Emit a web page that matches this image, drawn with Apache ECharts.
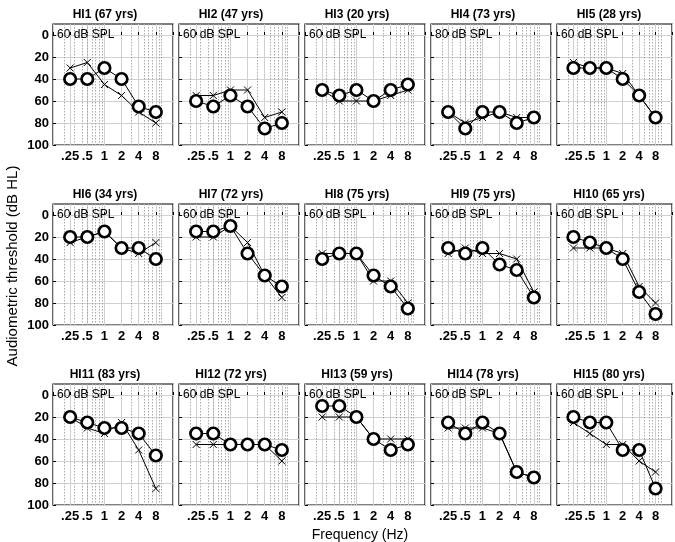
<!DOCTYPE html>
<html>
<head>
<meta charset="utf-8">
<script src="https://cdn.jsdelivr.net/npm/echarts@6/dist/echarts.min.js"></script>
<style>
html,body{margin:0;padding:0;background:#fff;}
#chart{width:675px;height:542px;}
</style>
</head>
<body>
<div id="chart"></div>
<script>
// ---- data ----
const freqs = [0.25, 0.5, 1, 2, 4, 8];
const freqLabels = ['.25', '.5', '1', '2', '4', '8'];
const yTicks = [0, 20, 40, 60, 80, 100];
const minorFreqs = [0.2, 0.3, 0.4, 0.5, 0.6, 0.7, 0.8, 0.9, 3, 5, 6, 7, 9, 10];
const panelIds = ['HI1','HI2','HI3','HI4','HI5','HI6','HI7','HI8','HI9','HI10','HI11','HI12','HI13','HI14','HI15'];
const ages = [67, 47, 20, 73, 28, 34, 72, 75, 75, 65, 83, 72, 59, 78, 80];
const splLevels = [60, 60, 60, 80, 60, 60, 60, 60, 60, 60, 60, 60, 60, 60, 60];
// open-circle thresholds (dB HL)
const circles = [
  [40, 40, 30, 40, 65, 70],
  [60, 65, 55, 65, 85, 80],
  [50, 55, 50, 60, 50, 45],
  [70, 85, 70, 70, 80, 75],
  [30, 30, 30, 40, 55, 75],
  [20, 20, 15, 30, 30, 40],
  [15, 15, 10, 35, 55, 65],
  [40, 35, 35, 55, 65, 85],
  [30, 35, 30, 45, 50, 75],
  [20, 25, 30, 40, 70, 90],
  [20, 25, 30, 30, 35, 55],
  [35, 35, 45, 45, 45, 50],
  [10, 10, 20, 40, 50, 45],
  [25, 35, 25, 35, 70, 75],
  [20, 25, 25, 50, 50, 85]
];
// cross thresholds (dB HL)
const crosses = [
  [30, 25, 45, 55, 70, 80],
  [55, 55, 50, 50, 75, 70],
  [50, 60, 60, 60, 55, 50],
  [70, 80, 75, 70, 75, 75],
  [25, 30, 30, 35, 55, 75],
  [25, 20, 15, 30, 35, 25],
  [20, 20, 10, 25, 55, 75],
  [35, 35, 35, 60, 60, 80],
  [35, 30, 35, 35, 40, 70],
  [30, 30, 30, 35, 65, 80],
  [20, 30, 35, 25, 50, 85],
  [45, 45, 45, 45, 45, 60],
  [20, 20, 20, 40, 40, 40],
  [30, 30, 30, 35, 70, 75],
  [25, 35, 45, 45, 60, 70]
];

// ---- layout ----
const colLeft = [53, 179, 305, 431, 557];
const rowTop = [24, 204, 384];
const panelW = 120, panelH = 121;
const FONT = 'Liberation Sans';

function freqLabel(v) {
  for (let k = 0; k < freqs.length; k++) {
    if (Math.abs(v - freqs[k]) < freqs[k] * 1e-6) return freqLabels[k];
  }
  return '';
}

const grids = [], xAxes = [], yAxes = [], series = [], graphics = [];
for (let i = 0; i < panelIds.length; i++) {
  const c = i % 5, r = Math.floor(i / 5);
  const left = colLeft[c], top = rowTop[r];
  grids.push({left: left, top: top, width: panelW, height: panelH, show: true,
    borderColor: '#000', borderWidth: 1.2, backgroundColor: 'transparent', containLabel: false});
  xAxes.push({type: 'log', logBase: 2, min: 0.125, max: 16, gridIndex: i,
    axisLine: {show: false},
    axisTick: {show: true, inside: true, length: 3, lineStyle: {color: '#000'}},
    splitLine: {show: true, lineStyle: {color: '#d0d0d0', width: 1}},
    axisLabel: {formatter: freqLabel, color: '#000', fontWeight: 'bold', fontSize: 13,
      fontFamily: FONT, margin: 5}
  });
  yAxes.push({type: 'value', inverse: true, min: -10, max: 100, gridIndex: i,
    axisLine: {show: false},
    axisTick: {show: true, inside: true, length: 3, customValues: yTicks, lineStyle: {color: '#000'}},
    splitLine: {show: true, lineStyle: {color: '#d0d0d0', width: 1}},
    axisLabel: {show: c === 0, customValues: yTicks, color: '#000', fontWeight: 'bold',
      fontSize: 13, fontFamily: FONT, margin: 4,
      formatter: v => (v >= 0 ? String(v) : '')}
  });
  series.push({type: 'line', xAxisIndex: i, yAxisIndex: i, silent: true, z: 2,
    data: freqs.map((f, k) => [f, crosses[i][k]]),
    symbol: 'path://M0,0L10,10M10,0L0,10', symbolSize: 7, showAllSymbol: true,
    lineStyle: {color: '#000', width: 1},
    itemStyle: {color: '#000', borderColor: '#000', borderWidth: 1},
    emphasis: {disabled: true},
    markLine: {silent: true, z: 1, symbol: ['none', 'none'], label: {show: false},
      lineStyle: {type: [1.5, 1.5], color: '#aaaaaa', width: 1},
      emphasis: {disabled: true},
      data: minorFreqs.map(f => ({xAxis: f}))}
  });
  series.push({type: 'line', xAxisIndex: i, yAxisIndex: i, silent: true, z: 3,
    data: freqs.map((f, k) => [f, circles[i][k]]),
    symbol: 'circle', symbolSize: 11.5, showAllSymbol: true,
    lineStyle: {color: '#000', width: 1},
    itemStyle: {color: '#fff', borderColor: '#000', borderWidth: 2.7},
    emphasis: {disabled: true}
  });
  graphics.push({type: 'text', x: left + 52, y: top - 9, z: 10,
    style: {text: panelIds[i] + ' (' + ages[i] + ' yrs)', fill: '#000',
      font: 'bold 12px ' + FONT, textAlign: 'center', textVerticalAlign: 'middle'}});
  graphics.push({type: 'text', x: left + 4, y: top + 11, z: 10,
    style: {text: splLevels[i] + ' dB SPL', fill: '#000',
      font: '12px ' + FONT, textAlign: 'left', textVerticalAlign: 'middle'}});
}
graphics.push({type: 'text', x: 13, y: 266, rotation: Math.PI / 2,
  style: {text: 'Audiometric threshold (dB HL)', fill: '#000', font: '15px ' + FONT,
    textAlign: 'center', textVerticalAlign: 'middle'}});
graphics.push({type: 'text', x: 360, y: 535,
  style: {text: 'Frequency (Hz)', fill: '#000', font: '14px ' + FONT,
    textAlign: 'center', textVerticalAlign: 'middle'}});

const chart = echarts.init(document.getElementById('chart'), null, {renderer: 'canvas'});
chart.setOption({
  animation: false,
  backgroundColor: '#fff',
  grid: grids, xAxis: xAxes, yAxis: yAxes, series: series, graphic: graphics
});
</script>
</body>
</html>
